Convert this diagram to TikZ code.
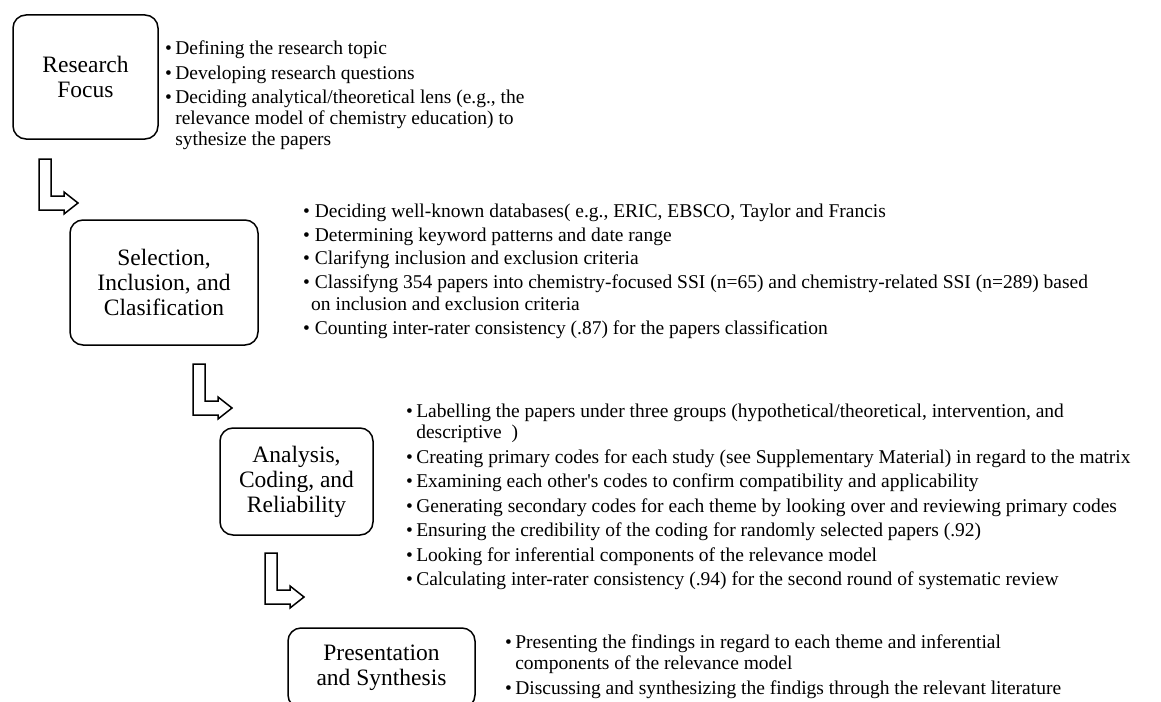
\documentclass[tikz,border=0pt]{standalone}
\usepackage{fontspec}
\setmainfont{Liberation Serif}
\usetikzlibrary{positioning}

\newcommand{\bp}{\textbullet\,}
\newcommand{\bps}{\textbullet\ }
\newcommand{\hg}{\hphantom{\textbullet\,}}

\tikzset{
	stage/.style={draw, line width=1.5pt, rounded corners=13pt, align=center, inner sep=0pt, font=\fontsize{23.5}{25}\selectfont},
	notes/.style={anchor=north west, align=left, inner sep=0pt, font=\fontsize{19.5}{21}\selectfont},
	bentarrow/.pic={
		\draw[line width=1.5pt, line join=miter] (0,0) -- (12,0) -- (12,-37) -- (25,-37) -- (25,-33) -- (39,-44) -- (25,-55) -- (25,-51) -- (0,-51) -- cycle;
	}
}

\begin{document}
\begin{tikzpicture}[x=1pt, y=1pt]
	\useasboundingbox (0,0) rectangle (1161,-701);

	\node[stage, minimum width=145pt, minimum height=124pt] at (85.5,-77) (focus) {Research\\Focus};
	\node[stage, minimum width=188pt, minimum height=125pt] at (164,-282.5) (selection) {Selection,\\Inclusion, and\\Clasification};
	\node[stage, minimum width=153pt, minimum height=107pt] at (296.5,-481.5) (analysis) {Analysis,\\Coding, and\\Reliability};
	\node[stage, minimum width=187pt, minimum height=80pt] at (381.5,-668) (synthesis) {Presentation\\and Synthesis};

	% turning arrows between the stages
	\coordinate (turn1) at (39,-159);
	\coordinate (turn2) at (193,-364);
	\coordinate (turn3) at (265,-553);
	\pic at (turn1) {bentarrow};
	\pic at (turn2) {bentarrow};
	\pic at (turn3) {bentarrow};

	\node[notes] at (165,-41) (focusnotes) {\bp Defining the research topic\\[3.3pt]
		\bp Developing research questions\\[3.3pt]
		\bp Deciding analytical/theoretical lens (e.g., the\\
		\hg relevance model of chemistry education) to\\
		\hg sythesize the papers};

	\node[notes] at (303,-204) (selectionnotes) {\bps Deciding well-known databases( e.g., ERIC, EBSCO, Taylor and Francis\\[2.5pt]
		\bps Determining keyword patterns and date range\\[2.5pt]
		\bps Clarifyng inclusion and exclusion criteria\\[2.5pt]
		\bps Classifyng 354 papers into chemistry-focused SSI (n=65) and chemistry-related SSI (n=289) based\\[1pt]
		\hspace{8pt}on inclusion and exclusion criteria\\[3pt]
		\bps Counting inter-rater consistency (.87) for the papers classification};

	\node[notes] at (406,-404) (analysisnotes) {\bp Labelling the papers under three groups (hypothetical/theoretical, intervention, and\\
		\hg descriptive~~)\\[3.5pt]
		\bp Creating primary codes for each study (see Supplementary Material) in regard to the matrix\\[3.5pt]
		\bp Examining each other\textquotesingle s codes to confirm compatibility and applicability\\[3.5pt]
		\bp Generating secondary codes for each theme by looking over and reviewing primary codes\\[3.5pt]
		\bp Ensuring the credibility of the coding for randomly selected papers (.92)\\[3.5pt]
		\bp Looking for inferential components of the relevance model\\[3.5pt]
		\bp Calculating inter-rater consistency (.94) for the second round of systematic review};

	\node[notes] at (505,-635) (synthesisnotes) {\bp Presenting the findings in regard to each theme and inferential\\
		\hg components of the relevance model\\[4pt]
		\bp Discussing and synthesizing the findigs through the relevant literature};
\end{tikzpicture}
\end{document}
